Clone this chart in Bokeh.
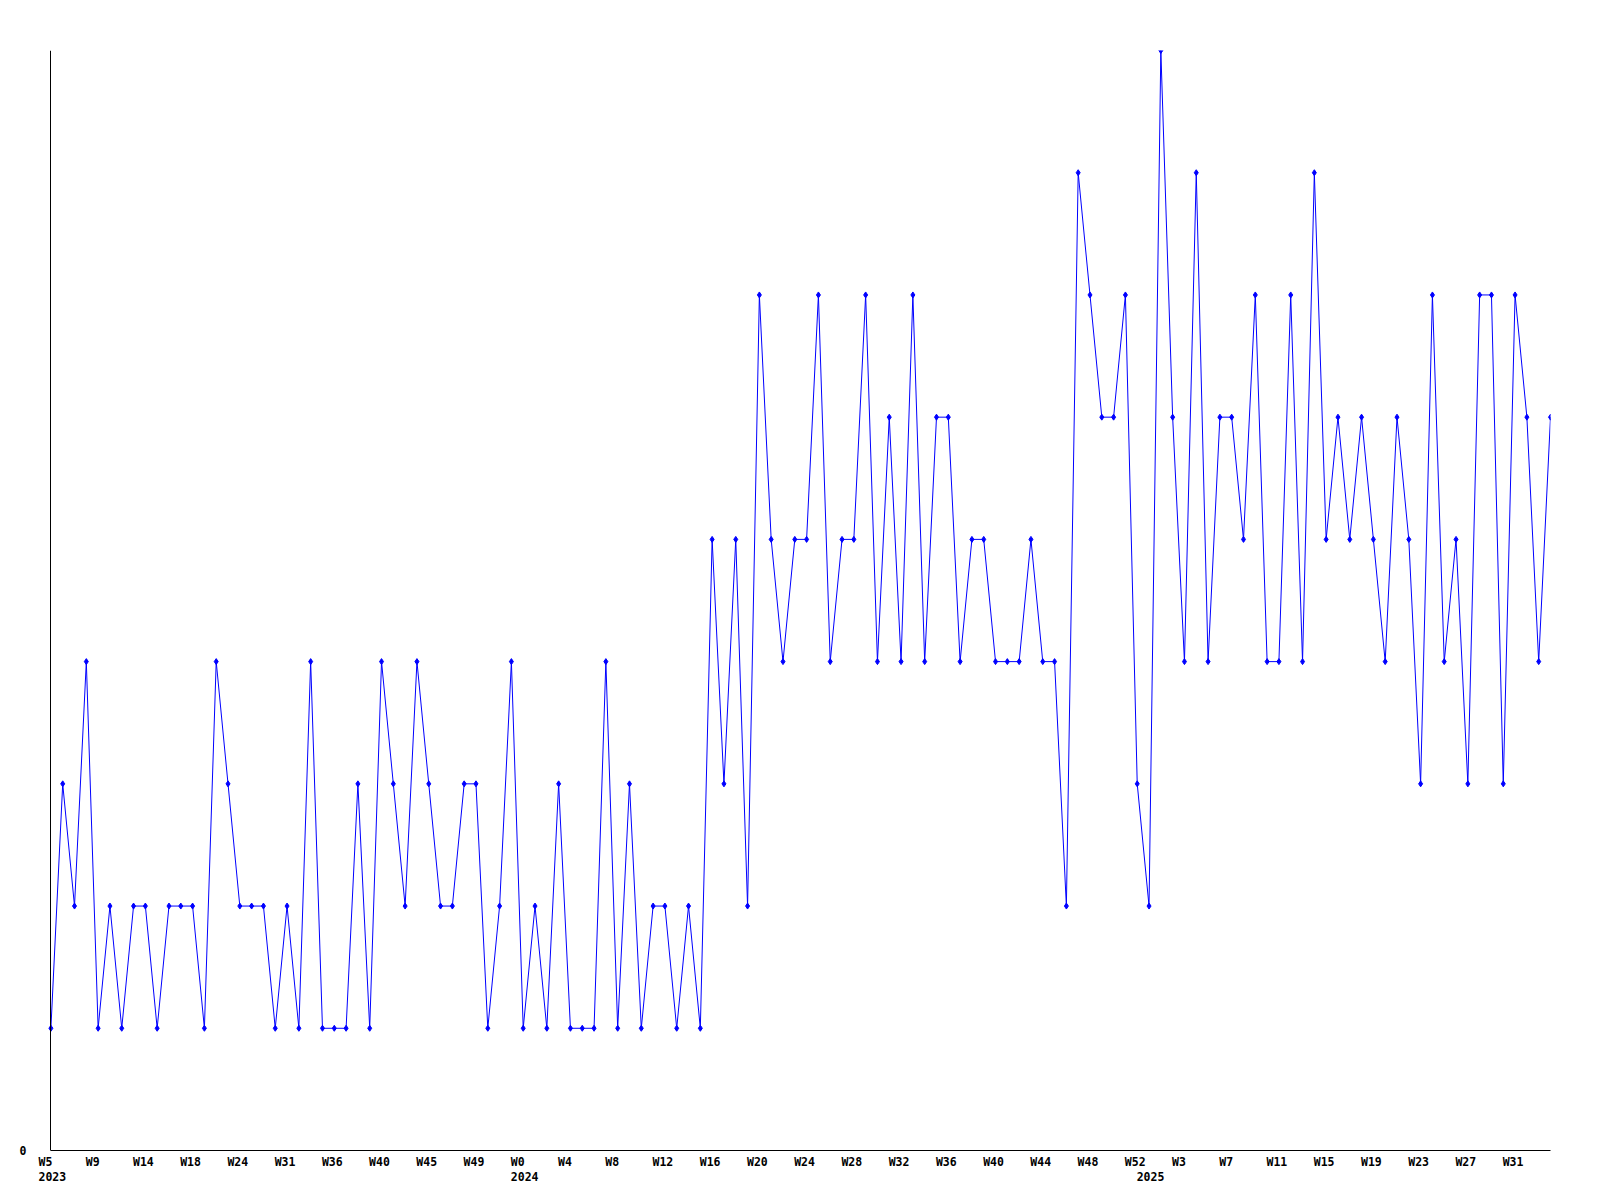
from bokeh.plotting import figure
from bokeh.models import Range1d, FixedTicker, LinearAxis
from bokeh.embed import file_html
from bokeh.resources import INLINE

# --- data ---------------------------------------------------------------
weeks_2023 = [5, 6, 7, 8, 9, 10, 11, 13, 14, 15, 16, 17, 18, 19, 22, 23, 24, 25, 26, 30,
              31, 32, 34, 35, 36, 37, 38, 39, 40, 41, 43, 44, 45, 46, 47, 48, 49, 50, 51, 52]
weeks_2024 = list(range(0, 53))
weeks_2025 = list(range(0, 35))

values = [1, 3, 2, 4, 1, 2, 1, 2, 2, 1, 2, 2, 2, 1, 4, 3, 2, 2, 2, 1,
          2, 1, 4, 1, 1, 1, 3, 1, 4, 3, 2, 4, 3, 2, 2, 3, 3, 1, 2, 4,
          1, 2, 1, 3, 1, 1, 1, 4, 1, 3, 1, 2, 2, 1, 2, 1, 5, 3, 5, 2,
          7, 5, 4, 5, 5, 7, 4, 5, 5, 7, 4, 6, 4, 7, 4, 6, 6, 4, 5, 5,
          4, 4, 4, 5, 4, 4, 2, 8, 7, 6, 6, 7, 3, 2, 9, 6, 4, 8, 4, 6,
          6, 5, 7, 4, 4, 7, 4, 8, 5, 6, 5, 6, 5, 4, 6, 5, 3, 7, 4, 5,
          3, 7, 7, 3, 7, 6, 4, 6]

y_ticks = [0]
y_max = 9

years = [2023] * len(weeks_2023) + [2024] * len(weeks_2024) + [2025] * len(weeks_2025)
weeks = weeks_2023 + weeks_2024 + weeks_2025
x = list(range(len(values)))
n = len(values)

# geometry of the label placement (labels start ~12 px before their point)
LEFT_PAD = 1.05          # range units kept left of the first point
FRAME_W = 1512
PX = FRAME_W / (n - 1 + LEFT_PAD)
FONT_PX = 11.5
CHAR_W = FONT_PX * 0.602
LABEL_START = -12.4      # px, left edge of a label relative to its point


def tick_for(i, text):
    return i + (LABEL_START + len(text) * CHAR_W / 2) / PX


week_ticks, week_over = [], {}
year_ticks, year_over = [], {}
for i, (w, yr) in enumerate(zip(weeks, years)):
    if i % 4 == 0:
        lab = "W%d" % w
        t = tick_for(i, lab)
        week_ticks.append(t)
        week_over[t] = lab
    if i == 0 or years[i - 1] != yr:
        lab = str(yr)
        t = tick_for(i, lab)
        year_ticks.append(t)
        year_over[t] = lab

# --- figure -------------------------------------------------------------
p = figure(frame_width=FRAME_W, frame_height=1100,
           x_range=Range1d(-LEFT_PAD, n - 1), y_range=Range1d(0, y_max),
           x_axis_location=None, y_axis_location=None,
           output_backend="svg", toolbar_location=None,
           min_border_left=38, min_border_top=50, min_border_right=40, min_border_bottom=10)
p.outline_line_color = None
p.xgrid.visible = False
p.ygrid.visible = False
p.background_fill_color = "white"
p.border_fill_color = "white"

p.line(x, values, line_color="#0000ff", line_width=1)
p.scatter(x, values, marker="diamond", size=6, color="#0000ff")

font = "DejaVu Sans Mono"


def style(ax, line=True):
    ax.axis_line_color = "black" if line else None
    ax.axis_line_width = 1
    ax.major_tick_line_color = None
    ax.minor_tick_line_color = None
    ax.major_tick_out = 0
    ax.major_tick_in = 0
    ax.minor_tick_out = 0
    ax.minor_tick_in = 0
    ax.major_label_text_font = font
    ax.major_label_text_font_style = "bold"
    ax.major_label_text_font_size = "%gpx" % FONT_PX
    ax.major_label_text_color = "black"


# x axis line, only over the data extent
line_axis = LinearAxis(bounds=(0, n - 1), ticker=FixedTicker(ticks=[]))
style(line_axis)
line_axis.major_label_standoff = 0
p.add_layout(line_axis, "below")

week_axis = LinearAxis(ticker=FixedTicker(ticks=week_ticks))
style(week_axis, line=False)
week_axis.major_label_overrides = week_over
week_axis.major_label_standoff = 4
p.add_layout(week_axis, "below")

year_axis = LinearAxis(ticker=FixedTicker(ticks=year_ticks))
style(year_axis, line=False)
year_axis.major_label_overrides = year_over
year_axis.major_label_standoff = 0
p.add_layout(year_axis, "below")

# y axis: label beside the frame, line through the first point
y_label_axis = LinearAxis(ticker=FixedTicker(ticks=y_ticks))
style(y_label_axis, line=False)
y_label_axis.major_label_standoff = 12
p.add_layout(y_label_axis, "left")

y_line_axis = LinearAxis(ticker=FixedTicker(ticks=[]), fixed_location=0)
style(y_line_axis)
y_line_axis.major_label_standoff = 0
p.add_layout(y_line_axis, "left")

open("out.html", "w").write(file_html(p, INLINE))
